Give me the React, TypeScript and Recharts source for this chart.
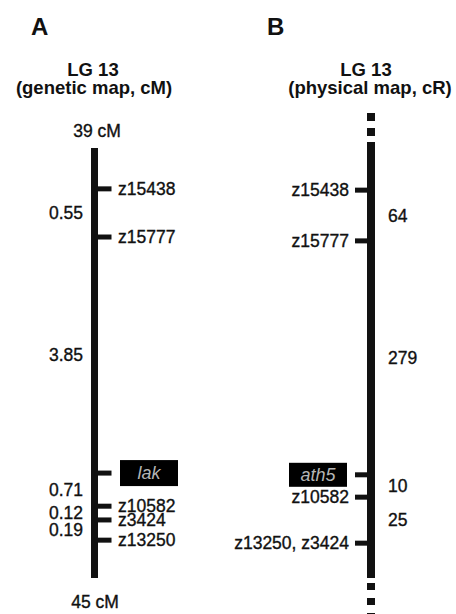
import React from 'react';
import { ComposedChart, Scatter, XAxis, YAxis, ReferenceLine, ReferenceDot } from 'recharts';

// positions are schematic: 0 = top of the drawn chromosome, 100 = bottom
const geneticMarkers = ['z15438', 'z15777', 'lak', 'z10582', 'z3424', 'z13250'];
const geneticPos = [9.5, 20.7, 75.6, 83.3, 86.5, 91.2];
const geneticDist = [0.55, 3.85, 0.71, 0.12, 0.19];
const geneticEnds = ['39 cM', '45 cM'];

const physicalMarkers = ['z15438', 'z15777', 'ath5', 'z10582', 'z13250, z3424'];
const physicalPos = [9.8, 21.6, 76.0, 81.2, 91.9];
const physicalDist = [64, 279, 10, 25];

const genes = ['lak', 'ath5'];

const W = 456;
const H = 614;
const A_X = 94.5;
const B_X = 371;
const INK = '#111';
const FONT = '"Liberation Sans", Arial, Helvetica, sans-serif';

const markersA = geneticMarkers.map((name, i) => ({ x: A_X, y: geneticPos[i], name }));
const markersB = physicalMarkers.map((name, i) => ({ x: B_X, y: physicalPos[i], name }));
const distA = geneticDist.map((d, i) => ({
  x: A_X,
  y: (geneticPos[i] + geneticPos[i + 1]) / 2,
  label: d.toFixed(2),
}));
const distB = physicalDist.map((d, i) => ({
  x: B_X,
  y: (physicalPos[i] + physicalPos[i + 1]) / 2,
  label: String(d),
}));

// scanned Helvetica looks a touch heavier than regular, so a hairline stroke
const txt = { fontFamily: FONT, fontSize: 17.5, fill: INK, stroke: INK, strokeWidth: 0.35 };

function MarkerRight(p: any) {
  const { cx, cy, payload } = p;
  const gene = genes.includes(payload.name);
  return (
    <g>
      <rect x={cx} y={cy - 2.5} width={17} height={5} fill={INK} />
      {gene ? (
        <g>
          <rect x={cx + 25.5} y={cy - 13} width={58} height={26} fill="#000" />
          <text x={cx + 54.5} y={cy} dy="0.35em" textAnchor="middle" fontFamily={FONT} fontSize={18} fill="#b5b5b5" fontStyle="italic">
            {payload.name}
          </text>
        </g>
      ) : (
        <text x={cx + 23.5} y={cy} dy="0.35em" {...txt}>
          {payload.name}
        </text>
      )}
    </g>
  );
}

function MarkerLeft(p: any) {
  const { cx, cy, payload } = p;
  const gene = genes.includes(payload.name);
  return (
    <g>
      <rect x={cx - 16} y={cy - 2.5} width={16} height={5} fill={INK} />
      {gene ? (
        <g>
          <rect x={cx - 82} y={cy - 12} width={58} height={24} fill="#000" />
          <text x={cx - 53} y={cy} dy="0.35em" textAnchor="middle" fontFamily={FONT} fontSize={18} fill="#b5b5b5" fontStyle="italic">
            {payload.name}
          </text>
        </g>
      ) : (
        <text x={cx - 22} y={cy} dy="0.35em" textAnchor="end" {...txt}>
          {payload.name}
        </text>
      )}
    </g>
  );
}

function DistLeft(p: any) {
  const { cx, cy, payload } = p;
  return (
    <text x={cx - 11.5} y={cy} dy="0.35em" textAnchor="end" {...txt}>
      {payload.label}
    </text>
  );
}

function DistRight(p: any) {
  const { cx, cy, payload } = p;
  return (
    <text x={cx + 17} y={cy} dy="0.35em" {...txt}>
      {payload.label}
    </text>
  );
}

export default function App() {
  return (
    <div style={{ position: 'absolute', left: 0, top: 0, width: W, height: H, background: '#fff' }}>
      <ComposedChart width={W} height={H} margin={{ top: 148, right: 0, bottom: 36, left: 0 }}>
        <XAxis type="number" dataKey="x" domain={[0, W]} hide />
        <YAxis type="number" dataKey="y" domain={[0, 100]} reversed hide />

        <ReferenceLine
          segment={[{ x: A_X, y: 0 }, { x: A_X, y: 100 }]}
          stroke={INK}
          strokeWidth={7}
          ifOverflow="visible"
        />
        <ReferenceLine
          segment={[{ x: B_X, y: 0 }, { x: B_X, y: 100 }]}
          stroke={INK}
          strokeWidth={8}
          ifOverflow="visible"
        />

        {/* chromosome ends */}
        <ReferenceDot
          x={A_X}
          y={0}
          ifOverflow="visible"
          shape={(p: any) => (
            <text x={p.cx + 2.5} y={p.cy - 11} textAnchor="middle" {...txt}>
              {geneticEnds[0]}
            </text>
          )}
        />
        <ReferenceDot
          x={A_X}
          y={100}
          ifOverflow="visible"
          shape={(p: any) => (
            <text x={p.cx + 0.5} y={p.cy + 30} textAnchor="middle" {...txt}>
              {geneticEnds[1]}
            </text>
          )}
        />
        <ReferenceDot
          x={B_X}
          y={0}
          ifOverflow="visible"
          shape={(p: any) => (
            <g>
              <line x1={p.cx} y1={p.cy - 6} x2={p.cx} y2={p.cy} stroke={INK} strokeWidth={8} />
              <line x1={p.cx} y1={p.cy - 35} x2={p.cx} y2={p.cy - 12} stroke={INK} strokeWidth={8} strokeDasharray="8 7" />
            </g>
          )}
        />
        <ReferenceDot
          x={B_X}
          y={100}
          ifOverflow="visible"
          shape={(p: any) => (
            <line x1={p.cx} y1={p.cy + 5} x2={p.cx} y2={p.cy + 42} stroke={INK} strokeWidth={8} strokeDasharray="7 8" />
          )}
        />

        <Scatter data={markersA} shape={MarkerRight} isAnimationActive={false} />
        <Scatter data={distA} shape={DistLeft} isAnimationActive={false} />
        <Scatter data={markersB} shape={MarkerLeft} isAnimationActive={false} />
        <Scatter data={distB} shape={DistRight} isAnimationActive={false} />

        {/* panel headings */}
        <g fontFamily={FONT} fontWeight="bold" fill={INK}>
          <text x={31} y={35} fontSize={24}>A</text>
          <text x={267} y={35} fontSize={24}>B</text>
          <text x={93} y={76} fontSize={18.5} textAnchor="middle">LG 13</text>
          <text x={94} y={94} fontSize={18.5} textAnchor="middle">(genetic map, cM)</text>
          <text x={366} y={76} fontSize={18.5} textAnchor="middle">LG 13</text>
          <text x={370} y={94} fontSize={18.5} textAnchor="middle">(physical map, cR)</text>
        </g>
      </ComposedChart>
    </div>
  );
}
